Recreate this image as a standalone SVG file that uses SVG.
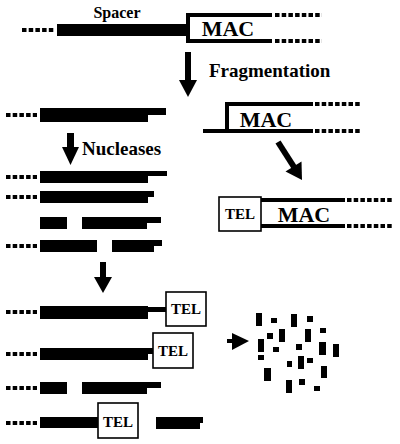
<svg xmlns="http://www.w3.org/2000/svg" width="400" height="444" viewBox="0 0 400 444">
<style>
.b{fill:#000}
.d{stroke:#000;stroke-width:4;stroke-dasharray:4.5 2.2;fill:none}
.s{stroke:#000;stroke-width:4;fill:none}
.box{fill:#fff;stroke:#000;stroke-width:1.6}
.t{font-family:"Liberation Serif","Times New Roman",serif;font-weight:bold;fill:#000}
.mac{font-size:22px;text-anchor:middle}
.tel{font-size:15px;text-anchor:middle}
.lab{font-size:19px}
</style>
<rect width="400" height="444" fill="#fff"/>

<g id="chromosome">
<line class="d" x1="22" y1="30" x2="55" y2="30"/>
<rect class="b" x="57" y="24" width="130" height="12"/>
<text class="t" x="117" y="18" font-size="16" text-anchor="middle">Spacer</text>
<path class="s" d="M272,15 H188 V41 H272"/>
<line class="d" x1="275" y1="15" x2="322" y2="15"/>
<line class="d" x1="275" y1="41" x2="322" y2="41"/>
<text class="t mac" x="228" y="36">MAC</text>
</g>

<g id="mac-fragment">
<path class="s" d="M313,104 H227 V131 M203,131 H313"/>
<line class="d" x1="315" y1="104" x2="360" y2="104"/>
<line class="d" x1="315" y1="131" x2="360" y2="131"/>
<text class="t mac" x="266" y="127">MAC</text>
</g>

<g id="tel-mac">
<line class="s" x1="261" y1="200" x2="345" y2="200"/>
<line class="s" x1="261" y1="226" x2="345" y2="226"/>
<line class="d" x1="347" y1="200" x2="392" y2="200"/>
<line class="d" x1="347" y1="226" x2="392" y2="226"/>
<rect class="box" x="219" y="197" width="42" height="34"/>
<text class="t tel" x="240" y="219">TEL</text>
<text class="t mac" x="304" y="222">MAC</text>
</g>

<g id="spacer-fragment">
<line class="d" x1="6" y1="115" x2="37" y2="115"/>
<rect class="b" x="40" y="108" width="108" height="14"/>
<rect class="b" x="148" y="108" width="18" height="7"/>
</g>

<g id="degraded-1">
<line class="d" x1="6" y1="177" x2="37" y2="177"/>
<rect class="b" x="40" y="171" width="108" height="12"/>
<rect class="b" x="148" y="171" width="19" height="5"/>
</g>
<g id="degraded-2">
<line class="d" x1="6" y1="197" x2="37" y2="197"/>
<rect class="b" x="40" y="191" width="108" height="12"/>
<rect class="b" x="148" y="191" width="6" height="6"/>
</g>
<g id="degraded-3">
<rect class="b" x="40" y="217" width="27" height="12"/>
<rect class="b" x="82" y="217" width="65" height="12"/>
<rect class="b" x="147" y="217" width="14" height="6"/>
</g>
<g id="degraded-4">
<line class="d" x1="6" y1="246" x2="37" y2="246"/>
<rect class="b" x="40" y="240" width="57" height="12"/>
<rect class="b" x="112" y="240" width="42" height="12"/>
<rect class="b" x="154" y="240" width="8" height="6"/>
</g>

<g id="healed-1">
<line class="d" x1="6" y1="312" x2="37" y2="312"/>
<rect class="b" x="40" y="306" width="108" height="13"/>
<rect class="b" x="148" y="307" width="18" height="5"/>
<rect class="box" x="166" y="292" width="40" height="34"/>
<text class="t tel" x="186" y="314">TEL</text>
</g>
<g id="healed-2">
<line class="d" x1="6" y1="354" x2="37" y2="354"/>
<rect class="b" x="40" y="348" width="108" height="12"/>
<rect class="b" x="148" y="348" width="5" height="6"/>
<rect class="box" x="153" y="333" width="40" height="35"/>
<text class="t tel" x="173" y="356">TEL</text>
</g>
<g id="healed-3">
<line class="d" x1="6" y1="388" x2="37" y2="388"/>
<rect class="b" x="40" y="382" width="27" height="12"/>
<rect class="b" x="82" y="382" width="65" height="12"/>
<rect class="b" x="147" y="382" width="14" height="6"/>
</g>
<g id="healed-4">
<line class="d" x1="6" y1="423" x2="37" y2="423"/>
<rect class="b" x="40" y="417" width="58" height="11"/>
<rect class="box" x="98" y="403" width="40" height="35"/>
<text class="t tel" x="118" y="427">TEL</text>
<rect class="b" x="156" y="417" width="44" height="12"/>
<rect class="b" x="200" y="417" width="3" height="6"/>
</g>

<g id="debris">
<rect class="b" x="256" y="313" width="6" height="13"/>
<rect class="b" x="271" y="318" width="6" height="5"/>
<rect class="b" x="291" y="314" width="6" height="13"/>
<rect class="b" x="307" y="316" width="6" height="6"/>
<rect class="b" x="320" y="328" width="6" height="5"/>
<rect class="b" x="267" y="333" width="6" height="6"/>
<rect class="b" x="279" y="329" width="6" height="13"/>
<rect class="b" x="305" y="329" width="6" height="13"/>
<rect class="b" x="258" y="339" width="6" height="13"/>
<rect class="b" x="273" y="347" width="6" height="5"/>
<rect class="b" x="296" y="344" width="6" height="6"/>
<rect class="b" x="319" y="342" width="7" height="13"/>
<rect class="b" x="333" y="344" width="6" height="13"/>
<rect class="b" x="258" y="355" width="6" height="5"/>
<rect class="b" x="287" y="361" width="5" height="6"/>
<rect class="b" x="298" y="356" width="6" height="13"/>
<rect class="b" x="307" y="358" width="6" height="5"/>
<rect class="b" x="264" y="368" width="7" height="13"/>
<rect class="b" x="321" y="366" width="6" height="12"/>
<rect class="b" x="299" y="379" width="6" height="6"/>
<rect class="b" x="286" y="380" width="6" height="13"/>
<rect class="b" x="314" y="386" width="6" height="5"/>
</g>

<g id="connectors">
<rect class="b" x="185" y="52" width="6" height="29"/>
<polygon class="b" points="179,80 197,80 188,97"/>
<text class="t lab" x="209" y="77">Fragmentation</text>

<line x1="278" y1="142" x2="294" y2="167" stroke="#000" stroke-width="6"/>
<polygon class="b" points="301.5,161.5 285.5,171.5 302,180"/>

<rect class="b" x="67" y="133" width="7" height="15"/>
<polygon class="b" points="62,147 79,147 70.5,165"/>
<text class="t lab" x="82" y="155">Nucleases</text>

<rect class="b" x="100" y="262" width="6" height="16"/>
<polygon class="b" points="94,277 112,277 103,293"/>

<rect class="b" x="227" y="339" width="6" height="4"/>
<polygon class="b" points="232,333 249,341 232,350"/>
</g>
</svg>
